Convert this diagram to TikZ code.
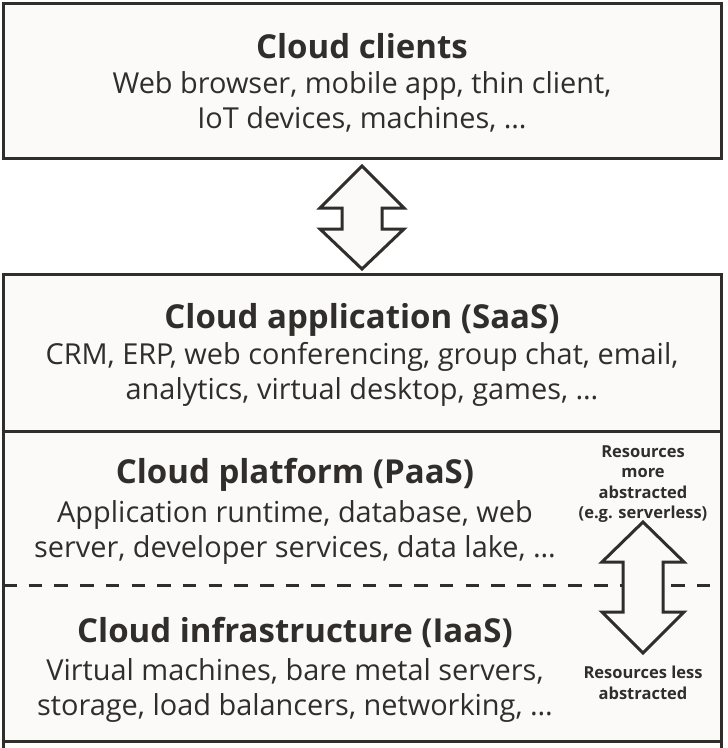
\documentclass[tikz,border=0pt]{standalone}
\usepackage{fontspec}
\setmainfont{Open Sans}
\definecolor{ink}{HTML}{312D2A}
\definecolor{paper}{HTML}{FBFAF8}
\tikzset{
  frame/.style={draw=ink, line width=3pt, fill=paper},
  sep/.style={draw=ink, line width=3pt},
  dsep/.style={draw=ink, line width=3pt, dash pattern=on 13.5pt off 12.2pt},
  bigarrow/.style={draw=ink, line width=3pt, fill=paper, line join=miter},
  head/.style={text=ink, font=\fontsize{33}{38}\selectfont\bfseries, inner sep=0pt},
  body/.style={text=ink, font=\fontsize{28.9}{35}\selectfont, align=center, inner sep=0pt},
  side/.style={text=ink, font=\fontsize{16.5}{20.5}\selectfont\bfseries, align=center, inner sep=0pt},
}
\begin{document}
\begin{tikzpicture}[x=1pt,y=-1pt]
\useasboundingbox (0,0) rectangle (728,748);
\fill[white] (0,0) rectangle (728,748);
% boxes
\path[frame] (3,3) rectangle (721,158);
\path[frame] (3,274) rectangle (721,741.5);
\draw[sep] (3,741.5) -- (3,750);
\draw[sep] (721,741.5) -- (721,750);
\draw[sep] (3,431) -- (721,431);
\draw[dsep] (3,585.5) -- (721,585.5);
% arrows
\path[bigarrow] (362,166) -- (404,208) -- (382,208) -- (382,229) -- (404,229) -- (362,269)
  -- (320,229) -- (342,229) -- (342,208) -- (320,208) -- cycle;
\path[bigarrow] (643,522) -- (684,562) -- (663,562) -- (663,612) -- (684,612) -- (643,653)
  -- (602,612) -- (623,612) -- (623,562) -- (602,562) -- cycle;
% texts
\node[head] (ch) at (362,46) {Cloud clients};
\node[body] (cb) at (362,102) {Web browser, mobile app, thin client,\\IoT devices, machines, \dots};
\node[head] (sh) at (362,320) {Cloud application (SaaS)};
\node[body] (sb) at (362,374) {CRM, ERP, web conferencing, group chat, email,\\analytics, virtual desktop, games, \dots};
\node[head] (ph) at (295,475) {Cloud platform (PaaS)};
\node[body] (pb) at (295,532) {Application runtime, database, web\\server, developer services, data lake, \dots};
\node[head] (ih) at (295,632) {Cloud infrastructure (IaaS)};
\node[body] (ib) at (295,690) {Virtual machines, bare metal servers,\\storage, load balancers, networking, \dots};
\node[side] (sm) at (643,484) {Resources\\more\\abstracted\\(e.g. serverless)};
\node[side] (sl) at (643,683) {Resources less\\abstracted};
\end{tikzpicture}
\end{document}
